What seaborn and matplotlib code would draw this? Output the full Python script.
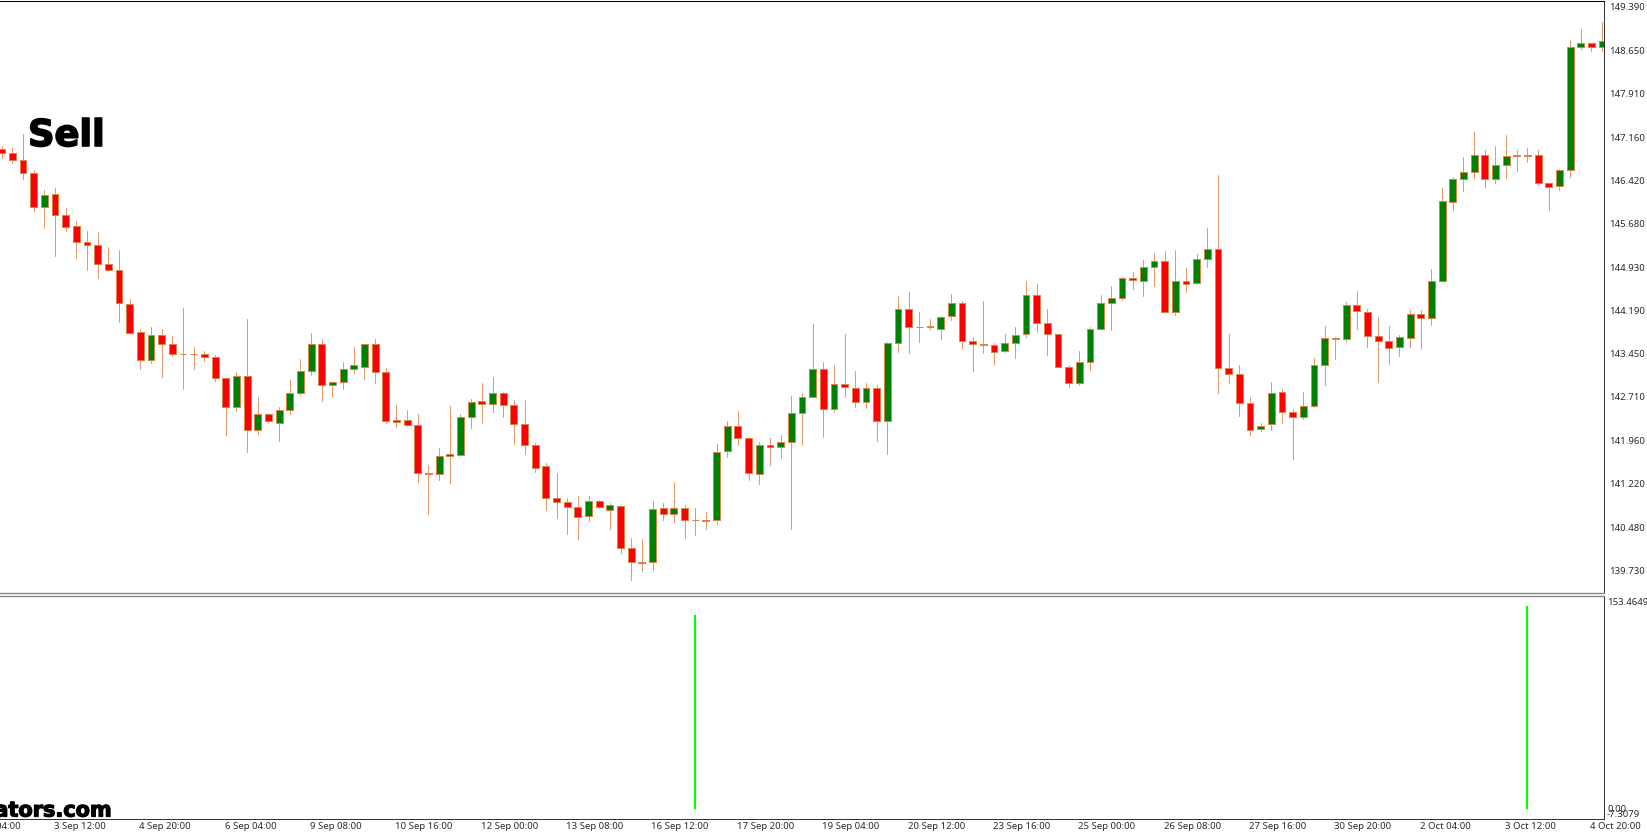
#!/usr/bin/env python
# Candlestick chart with a signal spike panel underneath
import matplotlib
matplotlib.use("Agg")
import matplotlib.patheffects as pe
import matplotlib.pyplot as plt
import numpy as np
import pandas as pd
import seaborn as sns

sns.set_theme(style="white")
plt.rcParams["font.family"] = ["Noto Sans", "DejaVu Sans"]

opens = [
    146.96, 146.88, 146.76, 146.55, 145.96, 146.18, 145.83, 145.63, 145.37, 145.32,
    144.98, 144.89, 144.30, 143.83, 143.34, 143.77, 143.61, 143.45, 143.45, 143.45,
    143.40, 143.04, 142.53, 143.06, 142.15, 142.41, 142.27, 142.49, 142.77, 143.16,
    143.61, 142.92, 142.96, 143.19, 143.23, 143.61, 143.13, 142.28, 142.32, 142.23,
    141.40, 141.39, 141.69, 141.72, 142.37, 142.64, 142.59, 142.77, 142.57, 142.25,
    141.88, 141.52, 140.98, 140.91, 140.83, 140.67, 140.93, 140.77, 140.84, 140.13,
    139.87, 139.88, 140.80, 140.70, 140.80, 140.61, 140.60, 140.60, 141.78, 142.21,
    142.01, 141.39, 141.88, 141.85, 141.94, 142.44, 142.71, 143.18, 142.51, 142.93,
    142.87, 142.62, 142.87, 142.29, 143.63, 144.22, 143.91, 143.93, 143.88, 144.09,
    144.32, 143.66, 143.61, 143.60, 143.49, 143.63, 143.78, 144.46, 143.98, 143.78,
    143.23, 142.95, 143.30, 143.88, 144.31, 144.41, 144.75, 144.70, 144.93, 145.03,
    144.17, 144.69, 144.66, 145.08, 145.25, 143.20, 143.10, 142.60, 142.16, 142.25,
    142.80, 142.45, 142.37, 142.56, 143.26, 143.72, 143.71, 144.28, 144.17, 143.76,
    143.66, 143.57, 143.72, 144.13, 144.07, 144.70, 146.05, 146.45, 146.57, 146.86,
    146.45, 146.68, 146.85, 146.85, 146.85, 146.38, 146.32, 146.59, 148.70, 148.78, 148.70,
]
closes = [
    146.88, 146.76, 146.55, 145.96, 146.17, 145.83, 145.62, 145.37, 145.32, 144.98,
    144.89, 144.31, 143.81, 143.34, 143.77, 143.62, 143.45, 143.44, 143.44, 143.40,
    143.04, 142.53, 143.06, 142.15, 142.41, 142.30, 142.49, 142.77, 143.16, 143.61,
    142.92, 142.96, 143.18, 143.25, 143.61, 143.13, 142.30, 142.31, 142.23, 141.40,
    141.39, 141.69, 141.74, 142.36, 142.63, 142.59, 142.77, 142.57, 142.25, 141.88,
    141.50, 140.98, 140.91, 140.83, 140.66, 140.92, 140.82, 140.85, 140.12, 139.88,
    139.89, 140.79, 140.70, 140.80, 140.60, 140.60, 140.59, 141.77, 142.21, 142.01,
    141.40, 141.88, 141.85, 141.94, 142.44, 142.71, 143.18, 142.51, 142.93, 142.88,
    142.62, 142.87, 142.29, 143.63, 144.22, 143.90, 143.90, 143.91, 144.08, 144.32,
    143.67, 143.61, 143.60, 143.48, 143.64, 143.77, 144.46, 143.98, 143.78, 143.23,
    142.95, 143.30, 143.88, 144.31, 144.41, 144.75, 144.72, 144.94, 145.03, 144.17,
    144.69, 144.65, 145.08, 145.25, 143.20, 143.10, 142.60, 142.14, 142.22, 142.78,
    142.45, 142.37, 142.56, 143.26, 143.72, 143.70, 144.28, 144.18, 143.76, 143.67,
    143.55, 143.73, 144.13, 144.07, 144.70, 146.06, 146.44, 146.57, 146.86, 146.45,
    146.68, 146.84, 146.84, 146.84, 146.38, 146.31, 146.59, 148.70, 148.77, 148.70, 148.80,
]
highs = [
    147.01, 146.97, 147.21, 146.60, 146.25, 146.28, 145.94, 145.72, 145.56, 145.54,
    145.28, 145.22, 144.38, 143.88, 143.91, 143.87, 143.76, 144.24, 143.56, 143.49,
    143.42, 143.04, 143.13, 144.05, 142.70, 142.44, 142.53, 143.00, 143.36, 143.81,
    143.70, 142.96, 143.30, 143.56, 143.62, 143.71, 143.20, 142.57, 142.49, 142.42,
    141.55, 141.83, 142.55, 142.41, 142.68, 142.95, 143.05, 142.79, 142.66, 142.66,
    141.92, 141.57, 141.41, 140.98, 141.02, 141.02, 140.94, 140.90, 140.85, 140.30,
    140.27, 140.92, 140.89, 141.26, 140.85, 140.81, 140.74, 141.91, 142.29, 142.47,
    142.02, 141.93, 142.00, 142.06, 142.72, 142.77, 143.96, 143.30, 143.26, 143.78,
    143.15, 142.94, 142.91, 143.65, 144.43, 144.50, 144.16, 144.05, 144.09, 144.47,
    144.35, 143.74, 144.35, 143.63, 143.78, 143.91, 144.69, 144.64, 144.21, 143.79,
    143.26, 143.50, 143.91, 144.45, 144.61, 144.77, 144.85, 145.05, 145.18, 145.21,
    145.22, 144.91, 145.16, 145.60, 146.51, 143.78, 143.25, 142.70, 142.27, 142.96,
    142.85, 142.50, 142.80, 143.37, 143.92, 143.74, 144.33, 144.53, 144.22, 144.08,
    143.92, 143.77, 144.20, 144.20, 144.90, 146.28, 146.48, 146.82, 147.25, 146.94,
    147.01, 147.20, 146.94, 146.97, 146.94, 146.38, 146.62, 148.82, 149.01, 148.78, 149.13,
]
lows = [
    146.80, 146.72, 146.45, 145.90, 145.60, 145.13, 145.56, 145.09, 144.88, 144.75,
    144.87, 144.00, 143.79, 143.18, 143.29, 143.05, 143.41, 142.85, 143.19, 143.32,
    142.98, 142.05, 142.47, 141.77, 142.08, 142.26, 141.96, 142.42, 142.74, 143.09,
    142.64, 142.71, 142.85, 143.12, 143.02, 142.94, 142.26, 142.19, 142.21, 141.25,
    140.70, 141.29, 141.23, 141.71, 142.17, 142.26, 142.46, 142.36, 141.90, 141.74,
    141.42, 140.77, 140.64, 140.36, 140.27, 140.58, 140.81, 140.44, 140.03, 139.58,
    139.73, 139.75, 140.60, 140.56, 140.30, 140.34, 140.44, 140.54, 141.68, 141.88,
    141.28, 141.21, 141.54, 141.67, 140.45, 141.88, 142.70, 142.03, 142.45, 142.70,
    142.53, 142.52, 141.95, 141.73, 143.48, 143.46, 143.65, 143.87, 143.70, 144.02,
    143.53, 143.15, 143.46, 143.25, 143.48, 143.37, 143.74, 143.82, 143.42, 143.22,
    142.88, 142.91, 143.17, 143.87, 143.85, 144.37, 144.55, 144.44, 144.61, 144.16,
    144.11, 144.50, 144.65, 144.93, 142.77, 142.94, 142.38, 142.05, 142.13, 142.14,
    142.26, 141.64, 142.33, 142.53, 142.92, 143.36, 143.65, 143.88, 143.56, 142.96,
    143.27, 143.41, 143.56, 143.53, 143.94, 144.68, 145.91, 146.24, 146.46, 146.31,
    146.38, 146.46, 146.58, 146.73, 146.34, 145.92, 146.25, 146.48, 148.67, 148.64, 148.64,
]

price_ticks = [149.39, 148.65, 147.91, 147.16, 146.42, 145.68, 144.93, 144.19,
               143.45, 142.71, 141.96, 141.22, 140.48, 139.73]

signal_bars = [65, 143]
signal_values = [139.4, 145.9]

time_bars = [-3, 5, 13, 21, 29, 37, 45, 53, 61, 69, 77, 85, 93, 101, 109, 117,
             125, 133, 141, 149]
time_labels = ["2 Sep 04:00", "3 Sep 12:00", "4 Sep 20:00", "6 Sep 04:00", "9 Sep 08:00",
               "10 Sep 16:00", "12 Sep 00:00", "13 Sep 08:00", "16 Sep 12:00",
               "17 Sep 20:00", "19 Sep 04:00", "20 Sep 12:00", "23 Sep 16:00",
               "25 Sep 00:00", "26 Sep 08:00", "27 Sep 16:00", "30 Sep 20:00",
               "2 Oct 04:00", "3 Oct 12:00", "4 Oct 20:00"]

FIG_W, FIG_H = 1647, 835
AXIS_X = 1604.3
LABEL_SIZE = 6.9
LABEL_COLOR = "#2b2b2b"
WICK_COLOR = "#e49a68"
EDGE_COLOR = "#d9824a"

bars = pd.DataFrame({"open": opens, "high": highs, "low": lows, "close": closes})
bars["bar"] = bars.index
wicks = bars.melt(id_vars="bar", value_vars=["high", "low"], value_name="price")

fig = plt.figure(figsize=(FIG_W / 100, FIG_H / 100), dpi=100, facecolor="white")
ax = fig.add_axes([0, 1 - 593.3 / FIG_H, AXIS_X / FIG_W, 592.8 / FIG_H])
ax_sig = fig.add_axes([0, 1 - 819 / FIG_H, AXIS_X / FIG_W, (819 - 595.7) / FIG_H])

# wicks first, bodies on top
sns.lineplot(data=wicks, x="bar", y="price", units="bar", estimator=None,
             color=WICK_COLOR, linewidth=0.72, legend=False, ax=ax)
body_colors = np.where(bars["close"] > bars["open"], "#008000", "#ff0000")
ax.bar(bars["bar"], bars["close"] - bars["open"], bottom=bars["open"], width=0.64,
       color=body_colors, edgecolor=EDGE_COLOR, linewidth=0.72, zorder=3)

ax_sig.vlines(signal_bars, 0, signal_values, color="#00ff00", linewidth=1.5)

for a in (ax, ax_sig):
    a.set_xlim(-0.159, 150.2)
    a.set_xlabel("")
    a.set_ylabel("")
    a.yaxis.tick_right()
    a.set_facecolor("white")
    a.grid(False)

ax.set_ylim(139.346, 149.50)
ax_sig.set_ylim(-7.3079, 153.4649)

ax.set_xticks([])
ax.set_yticks(price_ticks, [f"{p:.3f}" for p in price_ticks])
ax.tick_params(axis="y", length=2, width=0.72, pad=1.6, color="#333333",
               labelsize=LABEL_SIZE, labelcolor=LABEL_COLOR)

# the top label sits a few pixels under its tick, the bottom one above it
ax_sig.set_yticks([153.4649, 0, -7.3079], ["", "0.00", "-7.3079"])
ax_sig.tick_params(axis="y", length=2, width=0.72, pad=0, color="#333333",
                   labelsize=LABEL_SIZE, labelcolor=LABEL_COLOR)
ax_sig.get_yticklabels()[2].set_va("bottom")
ax_sig.annotate("153.4649", xy=(1, 153.4649), xycoords=ax_sig.get_yaxis_transform(),
                xytext=(2, -4.6), textcoords="offset points", ha="left", va="center",
                fontsize=LABEL_SIZE, color=LABEL_COLOR, annotation_clip=False)

ax_sig.set_xticks([b - 0.1 for b in time_bars[1:]], [""] * (len(time_bars) - 1))
ax_sig.tick_params(axis="x", length=2, width=0.72, color="#333333")
for bar, label in zip(time_bars, time_labels):
    ax_sig.text(bar - 0.1, -0.0358, label, transform=ax_sig.get_xaxis_transform(),
                ha="left", va="center", fontsize=LABEL_SIZE, color=LABEL_COLOR,
                clip_on=False)

sns.despine(ax=ax, left=True, bottom=False, right=False, top=False)
sns.despine(ax=ax_sig, left=True, bottom=False, right=False, top=False)
for side, color, lw in [("top", "#000000", 0.72), ("right", "#333333", 0.72), ("bottom", "#888888", 1.0)]:
    ax.spines[side].set_color(color)
    ax.spines[side].set_linewidth(lw)
for side, color, lw in [("top", "#888888", 1.0), ("right", "#333333", 0.72), ("bottom", "#333333", 0.72)]:
    ax_sig.spines[side].set_color(color)
    ax_sig.spines[side].set_linewidth(lw)

fig.text(28 / FIG_W, 1 - 146 / FIG_H, "Sell", fontsize=26.5, fontweight="bold",
         family="DejaVu Sans", color="black", va="baseline",
         path_effects=[pe.withStroke(linewidth=1.2, foreground="black")])
fig.text(112 / FIG_W, 1 - 816.5 / FIG_H, "ators.com", fontsize=15, fontweight="bold",
         family="DejaVu Sans", color="black", ha="right", va="baseline",
         path_effects=[pe.withStroke(linewidth=0.9, foreground="black")], zorder=5)

fig.savefig("out.png", dpi=100, facecolor="white")
